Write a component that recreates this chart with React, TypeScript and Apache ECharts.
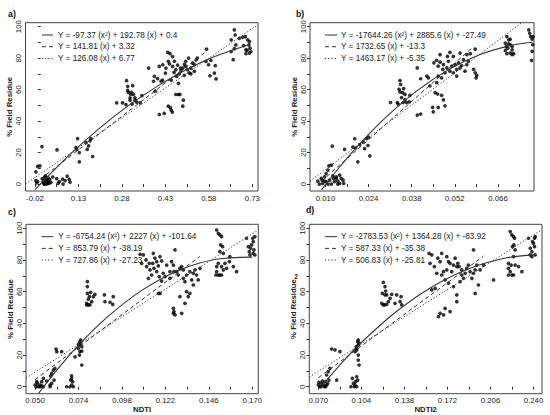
import React, { useEffect, useRef } from "react";
import * as echarts from "echarts";

const FONT = '"Liberation Sans", Arial, sans-serif';

// ---------- tick labels / tick marks ----------
const yLabels = [0, 20, 40, 60, 80, 100];
const yTicks = [0, 10, 20, 30, 40, 50, 60, 70, 80, 90, 100];
const xLabelsA = [-0.02, 0.13, 0.28, 0.43, 0.58, 0.73];
const xTicksA = [-0.02, 0.055, 0.13, 0.205, 0.28, 0.355, 0.43, 0.505, 0.58, 0.655, 0.73];
const xLabelsB = [0.01, 0.024, 0.038, 0.052, 0.066];
const xTicksB = [0.01, 0.017, 0.024, 0.031, 0.038, 0.045, 0.052, 0.059, 0.066, 0.073];
const xLabelsC = [0.05, 0.074, 0.098, 0.122, 0.146, 0.17];
const xTicksC = [0.05, 0.062, 0.074, 0.086, 0.098, 0.11, 0.122, 0.134, 0.146, 0.158, 0.17];
const xLabelsD = [0.07, 0.104, 0.138, 0.172, 0.206, 0.24];
const xTicksD = [0.07, 0.087, 0.104, 0.121, 0.138, 0.155, 0.172, 0.189, 0.206, 0.223, 0.24];

// ---------- legend equations ----------
const eqA = ["Y = -97.37 (x²) + 192.78 (x) + 0.4", "Y = 141.81 (x) + 3.32", "Y = 126.08 (x) + 6.77"];
const eqB = ["Y = -17644.26 (x²) + 2885.6 (x) + -27.49", "Y = 1732.65 (x) + -13.3", "Y = 1463.17 (x) + -5.35"];
const eqC = ["Y = -6754.24 (x²) + 2227 (x) + -101.64", "Y = 853.79 (x) + -38.19", "Y = 727.86 (x) + -27.23"];
const eqD = ["Y = -2783.53 (x²) + 1364.28 (x) + -83.92", "Y = 587.33 (x) + -35.38", "Y = 506.83 (x) + -25.81"];

// ---------- fitted lines ----------
const solidA = [[-0.02, -3.5], [0.1, 18.7], [0.2, 35.1], [0.3, 49.5], [0.4, 61.9], [0.5, 72.5], [0.6, 81.0], [0.72, 88.7]];
const dashedA = [[-0.02, 0.5], [0.57, 84.1]];
const dottedA = [[-0.0528, 0.1], [0.7496, 101.3]];
const solidB = [[0.0087, -3.7], [0.015, 11.8], [0.022, 27.4], [0.03, 43.2], [0.04, 59.7], [0.05, 72.7], [0.06, 82.1], [0.0705, 88.2], [0.0772, 90.1]];
const dashedB = [[0.0087, 1.8], [0.0576, 86.5]];
const dottedB = [[0.00497, 1.9], [0.0777, 108.3]];
const solidC = [[0.052, -4.1], [0.06, 7.7], [0.074, 26.2], [0.09, 44.1], [0.11, 61.6], [0.13, 73.7], [0.15, 80.4], [0.17, 81.8]];
const dashedC = [[0.05, 4.5], [0.141, 82.2]];
const dottedC = [[0.045, 5.5], [0.1733, 98.9]];
const solidD = [[0.0713, -0.8], [0.09, 16.3], [0.104, 27.9], [0.13, 46.4], [0.16, 63.1], [0.19, 74.8], [0.22, 81.5], [0.2415, 83.2]];
const dashedD = [[0.07, 5.7], [0.2005, 82.4]];
const dottedD = [[0.0629, 6.1], [0.2467, 99.2]];

// ---------- observations ----------
const pointsA = [
  [-0.017, 7.8], [-0.011, 11.2], [-0.003, 11.6], [0.004, 23.8], [-0.017, 2.2], [-0.011, 1.5], [-0.014, 0.8],
  [0.005, 3.5], [0.008, 1.5], [0.01, 0.5], [0.012, 2.5], [0.014, 4.5], [0.015, 1], [0.017, 0], [0.018, 2], [0.02, 3],
  [0.021, 1], [0.022, 0.2], [0.024, 2.2], [0.025, 4], [0.027, 1.2], [0.029, 0.5], [0.031, 2.8], [0.012, 0], [0.016, 5.2],
  [0.041, 4.5], [0.055, 3.5], [0.064, 1.5], [0.075, 3.2], [0.084, 2.2], [0.091, 5], [0.098, 3], [0.101, 1.2], [0.077, 0],
  [0.06, 0.5], [0.035, 1], [0.056, 21.7],
  [0.127, 28.9], [0.121, 23.2], [0.124, 22], [0.133, 20], [0.133, 14.1], [0.156, 26.4], [0.165, 24.2], [0.173, 28.9],
  [0.179, 17.5], [0.17, 27.5], [0.16, 22],
  [0.262, 51.6], [0.282, 51.6], [0.296, 65.7], [0.3, 62.1], [0.317, 62.5], [0.302, 58.3], [0.313, 58.3], [0.32, 56.9],
  [0.308, 54.8], [0.325, 54.8], [0.294, 50.5], [0.315, 50.8], [0.331, 52], [0.343, 51.6], [0.349, 56.2], [0.308, 53.3],
  [0.325, 53.3], [0.3, 59.5], [0.31, 57],
  [0.372, 73.7], [0.392, 68.4], [0.403, 67], [0.389, 65.3], [0.395, 59],
  [0.409, 44.2], [0.426, 44.9], [0.447, 48.5], [0.454, 45.7], [0.466, 56.9], [0.48, 56.9], [0.492, 53.3], [0.49, 49.5],
  [0.45, 47], [0.475, 56.9], [0.44, 49.5],
  [0.438, 83.6], [0.446, 82.8], [0.455, 81], [0.409, 74.7], [0.421, 75.8], [0.432, 73.7], [0.444, 76.4], [0.455, 74.7],
  [0.461, 78], [0.466, 72.7], [0.472, 75.6], [0.478, 70], [0.484, 72], [0.49, 73.7], [0.496, 76], [0.5, 74.7],
  [0.506, 72.7], [0.512, 70.6], [0.518, 73.7], [0.524, 76.8], [0.53, 75.8], [0.536, 78.8], [0.518, 70], [0.53, 71.6],
  [0.469, 68.4], [0.482, 73.7], [0.43, 70.5], [0.415, 65.3], [0.42, 66], [0.44, 78], [0.46, 71], [0.5, 78], [0.51, 80],
  [0.54, 80], [0.495, 69], [0.45, 66], [0.475, 64],
  [0.572, 85.7], [0.57, 77.9], [0.579, 75.8], [0.587, 78.5], [0.602, 75.2], [0.584, 68.8], [0.599, 70.5], [0.605, 66.8],
  [0.668, 97.9], [0.671, 94.7], [0.657, 91.6], [0.673, 88.4], [0.685, 92.6], [0.697, 93.3], [0.706, 93.7], [0.714, 91.6],
  [0.72, 90.5], [0.718, 88.4], [0.722, 86.3], [0.708, 85.3], [0.72, 83.2], [0.708, 82.8], [0.725, 84.2], [0.664, 79],
  [0.657, 84.2], [0.668, 86], [0.7, 88], [0.712, 85],
];

const pointsB = [
  [0.0075, 1.9], [0.0086, 3.6], [0.0091, 0.4], [0.008, 0], [0.0097, 1.9], [0.0102, 6.7], [0.0108, 8.8], [0.0111, 11.6],
  [0.0119, 12], [0.0122, 24.1], [0.0113, 2.5], [0.0124, 5.3], [0.0129, 1.5], [0.0135, 4.6], [0.0135, 3.6], [0.014, 1.9],
  [0.0146, 0.4], [0.0146, 5.7], [0.0157, 2.5], [0.0159, 0.4], [0.0119, 0], [0.0102, 1.5], [0.0097, 4.6], [0.0126, 3.6],
  [0.0108, 0], [0.014, 0], [0.0151, 3.6], [0.0089, 2.5],
  [0.0162, 22], [0.0195, 28.8], [0.0189, 23.5], [0.0198, 22.9], [0.0205, 14.1], [0.0222, 26.7], [0.0233, 28.8],
  [0.024, 29.8], [0.0227, 22.5], [0.0244, 17.9], [0.0238, 24.5], [0.0211, 25],
  [0.0311, 51.8], [0.0333, 51.8], [0.0342, 65.8], [0.0344, 63.3], [0.0342, 58.5], [0.035, 58.1], [0.0358, 57],
  [0.0347, 54.9], [0.0352, 51.8], [0.0363, 51.8], [0.0372, 52.2], [0.0374, 56.4], [0.0336, 50.8], [0.0358, 53.5],
  [0.0339, 60.2], [0.0354, 60.6],
  [0.0398, 73.8], [0.0409, 66.9], [0.0429, 68.6], [0.0434, 67.5], [0.0439, 62.3],
  [0.0398, 43.8], [0.0409, 44.5], [0.0448, 48.7], [0.045, 45.9], [0.0466, 48.7], [0.0464, 57.2], [0.0477, 56.4],
  [0.0483, 53.5], [0.0488, 49.7], [0.0456, 58.1],
  [0.0504, 83.7], [0.0496, 81.1], [0.0537, 83.2], [0.0559, 82.2], [0.057, 82.8], [0.0586, 85.7], [0.0452, 77],
  [0.0461, 78.6], [0.0466, 74.9], [0.0472, 77.4], [0.0481, 72.8], [0.0483, 75.9], [0.0488, 70.7], [0.0494, 73.8],
  [0.0499, 78], [0.0504, 71.7], [0.051, 74.9], [0.0515, 70.7], [0.0521, 75.9], [0.0526, 72.8], [0.0532, 77],
  [0.0537, 73.8], [0.0542, 75.3], [0.0548, 79], [0.0553, 71.7], [0.0559, 75.9], [0.0564, 78], [0.0466, 68.6],
  [0.0477, 67.5], [0.0461, 64.4], [0.0526, 68.6], [0.0581, 72.8], [0.0586, 70.7], [0.0589, 67.5], [0.0591, 69],
  [0.0515, 81.1], [0.0472, 82.2],
  [0.0689, 93.7], [0.0695, 91.6], [0.07, 92], [0.0684, 89.5], [0.0695, 89.1], [0.07, 88.5], [0.0706, 87.4],
  [0.0692, 86.4], [0.0706, 85.3], [0.07, 83.2], [0.0689, 82.8], [0.0706, 82.2], [0.0684, 84.9], [0.0711, 82.8],
  [0.0687, 87.4],
  [0.076, 97.9], [0.0766, 93.7], [0.0771, 92], [0.0774, 93.7], [0.0773, 88.5], [0.0771, 84.3], [0.0769, 78.6],
  [0.0763, 95.8],
];

const pointsC = [
  [0.05, 1.1], [0.0506, 0], [0.0518, 0], [0.0528, 1.1], [0.0513, 2.1], [0.0537, 0.6], [0.0528, 0], [0.0546, 0],
  [0.0537, 3.2], [0.0509, 3.2], [0.0546, 5.3], [0.0564, 3.6], [0.0586, 6.9], [0.0592, 8.4], [0.0601, 10.5],
  [0.061, 11.6], [0.0605, 4.2], [0.062, 22.1], [0.0616, 23.8], [0.0583, 1.1], [0.0583, 0], [0.0592, 2.1],
  [0.0647, 22.1], [0.0675, 0], [0.0702, 1.1], [0.0702, 5.3], [0.0708, 3.2], [0.0697, 4.2], [0.0702, 6.9],
  [0.0712, 0], [0.0693, 0],
  [0.0721, 18.9], [0.0745, 26.3], [0.0739, 24.2], [0.0748, 22.1], [0.0748, 28.4], [0.0752, 29.5], [0.0758, 13.7],
  [0.0745, 20], [0.0758, 25.3], [0.0752, 27.4], [0.0739, 26.7], [0.0758, 22.5],
  [0.0789, 66.3], [0.0789, 63.2], [0.0789, 58.9], [0.0794, 55.2], [0.0785, 52.6], [0.0803, 51.6], [0.0794, 51.6],
  [0.0813, 53.7], [0.0831, 58.3], [0.0822, 56.8], [0.08, 56.8], [0.0807, 59.6], [0.0785, 51.6], [0.0883, 57.9],
  [0.0886, 53.7], [0.0914, 53.3], [0.0929, 52], [0.0932, 56.8],
  [0.108, 83.6], [0.1098, 83.2], [0.1089, 77.9], [0.1116, 75.8], [0.1131, 77.9], [0.1153, 84.2], [0.1162, 81.1],
  [0.115, 77.9], [0.1157, 74.7], [0.1172, 78.9], [0.1181, 76.2], [0.119, 82.1], [0.1199, 79.4], [0.1208, 71.6],
  [0.1172, 72.6], [0.1186, 69.5], [0.1199, 66.7], [0.1181, 58.9], [0.119, 58.9], [0.1218, 69.5], [0.1227, 76.8],
  [0.1254, 78.9], [0.1245, 72.6], [0.1264, 76.8], [0.1273, 86.3], [0.1267, 72.6], [0.1245, 68.4], [0.1282, 72.6],
  [0.1291, 70.5], [0.13, 74.7], [0.131, 75.8], [0.1319, 73.7], [0.1144, 70.5], [0.1126, 68.4], [0.1113, 80],
  [0.1135, 73.7],
  [0.1264, 49.5], [0.1267, 47.4], [0.1273, 45.3], [0.1264, 46.3], [0.13, 56.8], [0.131, 46.3], [0.1328, 66.3],
  [0.1337, 60], [0.1328, 52.6], [0.1346, 56.8], [0.1355, 58.9], [0.1337, 70.5], [0.1355, 72.6], [0.1374, 71.6],
  [0.1383, 73.7], [0.1392, 70.5], [0.1401, 67.4], [0.1411, 74.7], [0.1374, 64.2], [0.1365, 67.4], [0.1319, 68.4],
  [0.1503, 98.9], [0.1512, 96.8], [0.1521, 95.8], [0.153, 94.7], [0.1536, 88.4], [0.1521, 85.3], [0.154, 84.2],
  [0.1512, 77.9], [0.1503, 75.8], [0.1503, 72.6], [0.1512, 70.5], [0.1521, 70.5], [0.153, 70.5], [0.154, 73.7],
  [0.1549, 77.9], [0.153, 75.8], [0.1558, 74.7], [0.1573, 78.9], [0.1595, 75.8], [0.1613, 72.6], [0.1576, 82.1],
  [0.1499, 70.5], [0.1525, 89.5],
  [0.1668, 93.7], [0.1678, 88.4], [0.1683, 85.3], [0.1696, 89.5], [0.1705, 91.6], [0.1709, 86.3], [0.1714, 83.2],
  [0.1687, 83.2], [0.1702, 93.7], [0.1714, 94.7], [0.1691, 87.4], [0.1705, 84.2],
];

const pointsD = [
  [0.07, 1.1], [0.0713, 0], [0.0726, 2.1], [0.074, 1.1], [0.0753, 3.2], [0.0766, 1.1], [0.0747, 0], [0.0721, 0],
  [0.0732, 3.6], [0.0766, 7.4], [0.0779, 9.5], [0.0792, 11.6], [0.0805, 23.8], [0.0784, 4.2], [0.0832, 23.2],
  [0.0871, 22.1], [0.0845, 4.2], [0.0758, 0], [0.0774, 2.1], [0.0705, 2.7],
  [0.0958, 0], [0.0969, 5.3], [0.099, 1.1], [0.0995, 3.2], [0.0977, 2.1], [0.1003, 6.3], [0.1011, 4.2], [0.0985, 0],
  [0.1003, 0], [0.099, 22.1], [0.1003, 24.2], [0.1016, 26.3], [0.1011, 28.4], [0.1016, 29.5], [0.1016, 20],
  [0.1016, 16.8], [0.1022, 13.7], [0.1003, 23.2], [0.1022, 27.4], [0.1, 25.3],
  [0.1214, 65.9], [0.1227, 63.2], [0.1206, 58.9], [0.1227, 57.9], [0.124, 57.9], [0.1201, 52.6], [0.1222, 51.6],
  [0.124, 52], [0.1254, 53.7], [0.1267, 55.8], [0.128, 58.3], [0.1319, 57.9], [0.1306, 52.6], [0.1346, 53.7],
  [0.1359, 51.6], [0.1354, 56.8], [0.1214, 51.6], [0.1232, 60.4],
  [0.1575, 84.2], [0.1596, 83.2], [0.1583, 77.9], [0.1617, 75.8], [0.1644, 81.1], [0.1662, 78.9], [0.1675, 84.2],
  [0.1689, 72.6], [0.1702, 67.4], [0.1715, 82.1], [0.1728, 78.9], [0.1741, 77.9], [0.1754, 72.6], [0.1768, 76.8],
  [0.1781, 81.1], [0.1794, 75.8], [0.1802, 77.9], [0.1812, 75.8], [0.1833, 70.5], [0.1847, 68.4], [0.182, 66.3],
  [0.1794, 57.9], [0.1794, 53.7], [0.1741, 47.4], [0.1702, 49.5], [0.1689, 45.3], [0.1649, 44.2], [0.1662, 46.3],
  [0.1623, 62.1], [0.1596, 61.1], [0.1636, 71.6], [0.1675, 70.5], [0.1715, 73.7], [0.1728, 65.3], [0.1768, 63.2],
  [0.1873, 74.7], [0.1886, 76.8], [0.1899, 72.6], [0.1913, 68.4], [0.1926, 71.6], [0.1939, 73.7], [0.1952, 76.8],
  [0.1926, 86.3], [0.1939, 58.9], [0.1965, 64.2], [0.1978, 73.7], [0.2005, 76.8], [0.2084, 67.4], [0.186, 71.6],
  [0.1833, 73.7],
  [0.2216, 97.9], [0.2229, 95.8], [0.2242, 94.7], [0.225, 93.7], [0.2234, 88.4], [0.2255, 86.3], [0.2242, 82.1],
  [0.2202, 77.9], [0.2202, 74.7], [0.2202, 70.5], [0.2229, 70.5], [0.2242, 70.5], [0.2255, 76.8], [0.2282, 75.8],
  [0.2308, 72.6], [0.2216, 72.6], [0.2223, 76.8], [0.2245, 89.5],
  [0.2361, 93.7], [0.2374, 87.4], [0.2387, 85.3], [0.24, 90.5], [0.2408, 93.7], [0.2413, 83.2], [0.2387, 82.1],
  [0.2408, 88.4], [0.2392, 91.6], [0.2374, 83.2], [0.2413, 94.7],
];

const panelLetters = ["a)", "b)", "c)", "d)"];
const xNames = ["", "", "NDTI", "NDTI2"];
const yName = "% Field Residue";

export default function App() {
  const ref = useRef<HTMLDivElement>(null);

  useEffect(() => {
    document.body.style.margin = "0";
    if (!ref.current) return;
    const chart = echarts.init(ref.current, null, { renderer: "svg" });

    const panels = [
      { grid: { left: 25.5, top: 22.7, width: 232.5, height: 168.3 }, xMin: -0.0528, xMax: 0.7496, dec: 2,
        labels: xLabelsA, ticks: xTicksA, pts: pointsA, solid: solidA, dashed: dashedA, dotted: dottedA, eq: eqA,
        leg: { x1: 42, x2: 53, tx: 58, y0: 35, dy: 11.7 }, letter: { x: 8, y: 13.5 } },
      { grid: { left: 310, top: 22.7, width: 224, height: 168.3 }, xMin: 0.00497, xMax: 0.0777, dec: 3,
        labels: xLabelsB, ticks: xTicksB, pts: pointsB, solid: solidB, dashed: dashedB, dotted: dottedB, eq: eqB,
        leg: { x1: 325, x2: 337, tx: 341, y0: 35, dy: 11.7 }, letter: { x: 296, y: 13.5 } },
      { grid: { left: 26, top: 224.3, width: 232.3, height: 169.4 }, xMin: 0.045, xMax: 0.1733, dec: 3,
        labels: xLabelsC, ticks: xTicksC, pts: pointsC, solid: solidC, dashed: dashedC, dotted: dottedC, eq: eqC,
        leg: { x1: 41.7, x2: 53.3, tx: 58.3, y0: 236.7, dy: 11.7 }, letter: { x: 8, y: 211.5 } },
      { grid: { left: 309.3, top: 224.3, width: 232.7, height: 169.4 }, xMin: 0.0629, xMax: 0.2467, dec: 3,
        labels: xLabelsD, ticks: xTicksD, pts: pointsD, solid: solidD, dashed: dashedD, dotted: dottedD, eq: eqD,
        leg: { x1: 325, x2: 337, tx: 341, y0: 236.7, dy: 11.7 }, letter: { x: 306, y: 210 } },
    ];

    const axisColor = "#333";
    const lineDefs = [
      { type: "solid", width: 1.1 },
      { type: [4, 3], width: 1 },
      { type: [1.2, 2], width: 1 },
    ];

    const grids: any[] = [];
    const xAxes: any[] = [];
    const yAxes: any[] = [];
    const series: any[] = [];
    const graphics: any[] = [];

    panels.forEach((p, i) => {
      grids.push({ ...p.grid, show: true, borderColor: "#444", borderWidth: 1, backgroundColor: "transparent", containLabel: false });
      xAxes.push({
        type: "value", gridIndex: i, min: p.xMin, max: p.xMax,
        axisLine: { show: false }, splitLine: { show: false },
        axisTick: { show: true, customValues: p.ticks, length: 3, lineStyle: { color: axisColor, width: 1 } },
        axisLabel: {
          customValues: p.labels, margin: 3, fontSize: 7.8, color: "#222", fontFamily: FONT,
          formatter: (v: number) => v.toFixed(p.dec),
        },
        name: xNames[i], nameLocation: "middle", nameGap: 11,
        nameTextStyle: { fontSize: 7.8, fontWeight: "bold", color: "#222", fontFamily: FONT },
      });
      yAxes.push({
        type: "value", gridIndex: i, min: -4.4, max: 102.5,
        axisLine: { show: false }, splitLine: { show: false },
        axisTick: { show: true, customValues: yTicks, length: 3, lineStyle: { color: axisColor, width: 1 } },
        axisLabel: { customValues: yLabels, rotate: 90, margin: 3, fontSize: 7.8, color: "#222", fontFamily: FONT },
        name: yName, nameLocation: "middle", nameGap: 10,
        nameTextStyle: { fontSize: 7.8, fontWeight: "bold", color: "#222", fontFamily: FONT },
      });
      series.push({
        type: "scatter", xAxisIndex: i, yAxisIndex: i, data: p.pts, symbolSize: 3.7,
        itemStyle: { color: "#000" }, silent: true, z: 2,
      });
      [p.solid, p.dashed, p.dotted].forEach((d, k) => {
        series.push({
          type: "line", xAxisIndex: i, yAxisIndex: i, data: d, symbol: "none", smooth: k === 0 ? 0.3 : false,
          clip: true, silent: true, z: 3,
          lineStyle: { color: "#333", width: lineDefs[k].width, type: lineDefs[k].type },
        });
        graphics.push({
          type: "line", silent: true,
          shape: { x1: p.leg.x1, y1: p.leg.y0 + k * p.leg.dy, x2: p.leg.x2, y2: p.leg.y0 + k * p.leg.dy },
          style: { stroke: "#333", lineWidth: 1, lineDash: k === 0 ? null : lineDefs[k].type },
        });
        graphics.push({
          type: "text", silent: true, x: p.leg.tx, y: p.leg.y0 + k * p.leg.dy,
          style: { text: p.eq[k], fill: "#222", fontSize: 8.2, fontFamily: FONT, verticalAlign: "middle", align: "left" },
        });
      });
      graphics.push({
        type: "text", silent: true, x: p.letter.x, y: p.letter.y,
        style: { text: panelLetters[i], fill: "#111", fontSize: 8.8, fontWeight: "bold", fontFamily: FONT, verticalAlign: "middle" },
      });
    });

    graphics.push({
      type: "text", silent: true, x: 296, y: 276,
      style: { text: "2", fill: "#222", fontSize: 6.5, fontWeight: "bold", fontFamily: FONT, align: "center", verticalAlign: "middle" },
    });

    chart.setOption({
      animation: false,
      backgroundColor: "#fff",
      textStyle: { fontFamily: FONT },
      grid: grids,
      xAxis: xAxes,
      yAxis: yAxes,
      series,
      graphic: graphics,
    });

    return () => chart.dispose();
  }, []);

  return <div ref={ref} style={{ width: 550, height: 415 }} />;
}
